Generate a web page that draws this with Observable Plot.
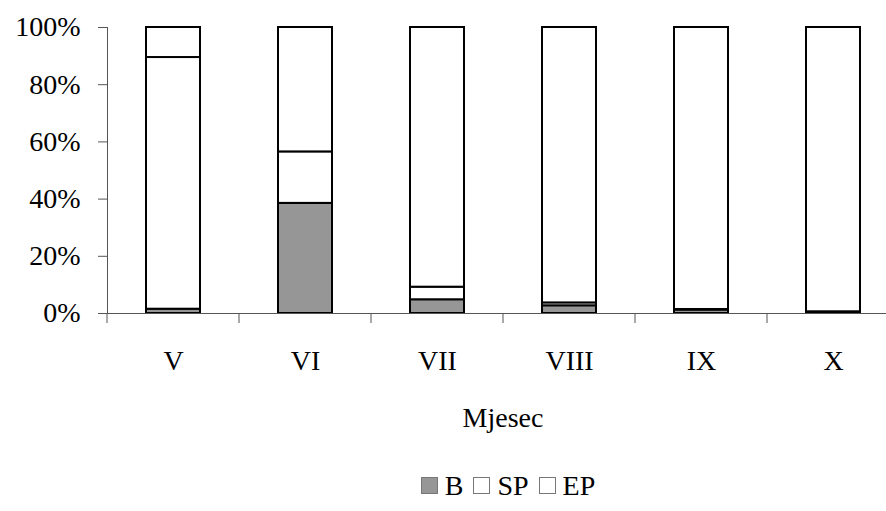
<!DOCTYPE html>
<html>
<head>
<meta charset="utf-8">
<script src="https://cdn.jsdelivr.net/npm/d3@7"></script>
<script src="https://cdn.jsdelivr.net/npm/@observablehq/plot@0.6"></script>
<style>
  body { margin: 0; background: #fff; font-size: 28px; font-family: serif; }
  #wrap { position: relative; width: 886px; height: 511px; overflow: hidden; }
  #xlabel { position: absolute; left: 0; width: 1006px; top: 402px; text-align: center; font-size: 28px; line-height: 32px; color: #000; font-family: serif; }
  #legend { position: absolute; left: 0; width: 1006px; top: 470px; text-align: center; font-size: 28px; line-height: 32px; color: #000; font-family: serif; }
  .sw { display: inline-block; width: 15px; height: 15px; border: 1px solid #777; margin: 0 7px 0 10px; vertical-align: 1px; }
</style>
</head>
<body>
<div id="wrap">
  <div id="chart"></div>
  <div id="xlabel">Mjesec</div>
  <div id="legend"></div>
</div>
<script>
const months = ["V", "VI", "VII", "VIII", "IX", "X"];
const seriesNames = ["B", "SP", "EP"];
const valuesB  = [1.5, 38.5, 4.8, 2.7, 1.2, 0.3];
const valuesSP = [88.0, 18.0, 4.4, 1.0, 0.2, 0.3];
const valuesEP = [10.5, 43.5, 90.8, 96.3, 98.6, 99.4];
const yTicks = [0, 20, 40, 60, 80, 100];
const seriesColors = ["#969696", "#ffffff", "#ffffff"];

const seriesValues = [valuesB, valuesSP, valuesEP];
const data = [];
seriesNames.forEach((s, si) => months.forEach((m, mi) => data.push({month: m, series: s, value: seriesValues[si][mi]})));

const plot = Plot.plot({
  width: 886,
  height: 380,
  marginTop: 27,
  marginBottom: 67,
  marginLeft: 107,
  marginRight: 0,
  style: {fontFamily: "serif", fontSize: "28px", color: "#000", background: "#fff"},
  x: {domain: months, range: [107, 899], paddingInner: 0.59, paddingOuter: 0.295, label: null},
  y: {domain: [0, 100], label: null},
  color: {domain: seriesNames, range: seriesColors},
  marks: [
    Plot.barY(data, {x: "month", y: "value", fill: "series", stroke: "#000", strokeWidth: 2, order: seriesNames}),
    Plot.frame({anchor: "left", stroke: "#555"}),
    Plot.frame({anchor: "bottom", stroke: "#555"}),
    Plot.axisY({ticks: yTicks, tickSize: 9, tickPadding: 18, tickFormat: d => d + "%", stroke: "#555", fill: "#000", fontFamily: "serif"}),
    Plot.axisX({tickSize: 0, tickPadding: 37, fill: "#000", fontFamily: "serif"})
  ]
});

// tick marks between categories, positioned from the x band scale
const sx = plot.scale("x");
const half = (sx.step - sx.bandwidth) / 2;
const g = d3.select(plot).append("g").attr("stroke", "#555");
months.concat([null]).forEach((m) => {
  const xpos = m == null ? sx.apply(months[months.length - 1]) + sx.bandwidth + half : sx.apply(m) - half;
  g.append("line").attr("x1", xpos).attr("x2", xpos).attr("y1", 313).attr("y2", 323);
});

document.getElementById("chart").appendChild(plot);

const legend = document.getElementById("legend");
seriesNames.forEach((s, i) => {
  const sw = document.createElement("span");
  sw.className = "sw";
  sw.style.background = seriesColors[i];
  legend.appendChild(sw);
  legend.appendChild(document.createTextNode(s));
});
</script>
</body>
</html>
